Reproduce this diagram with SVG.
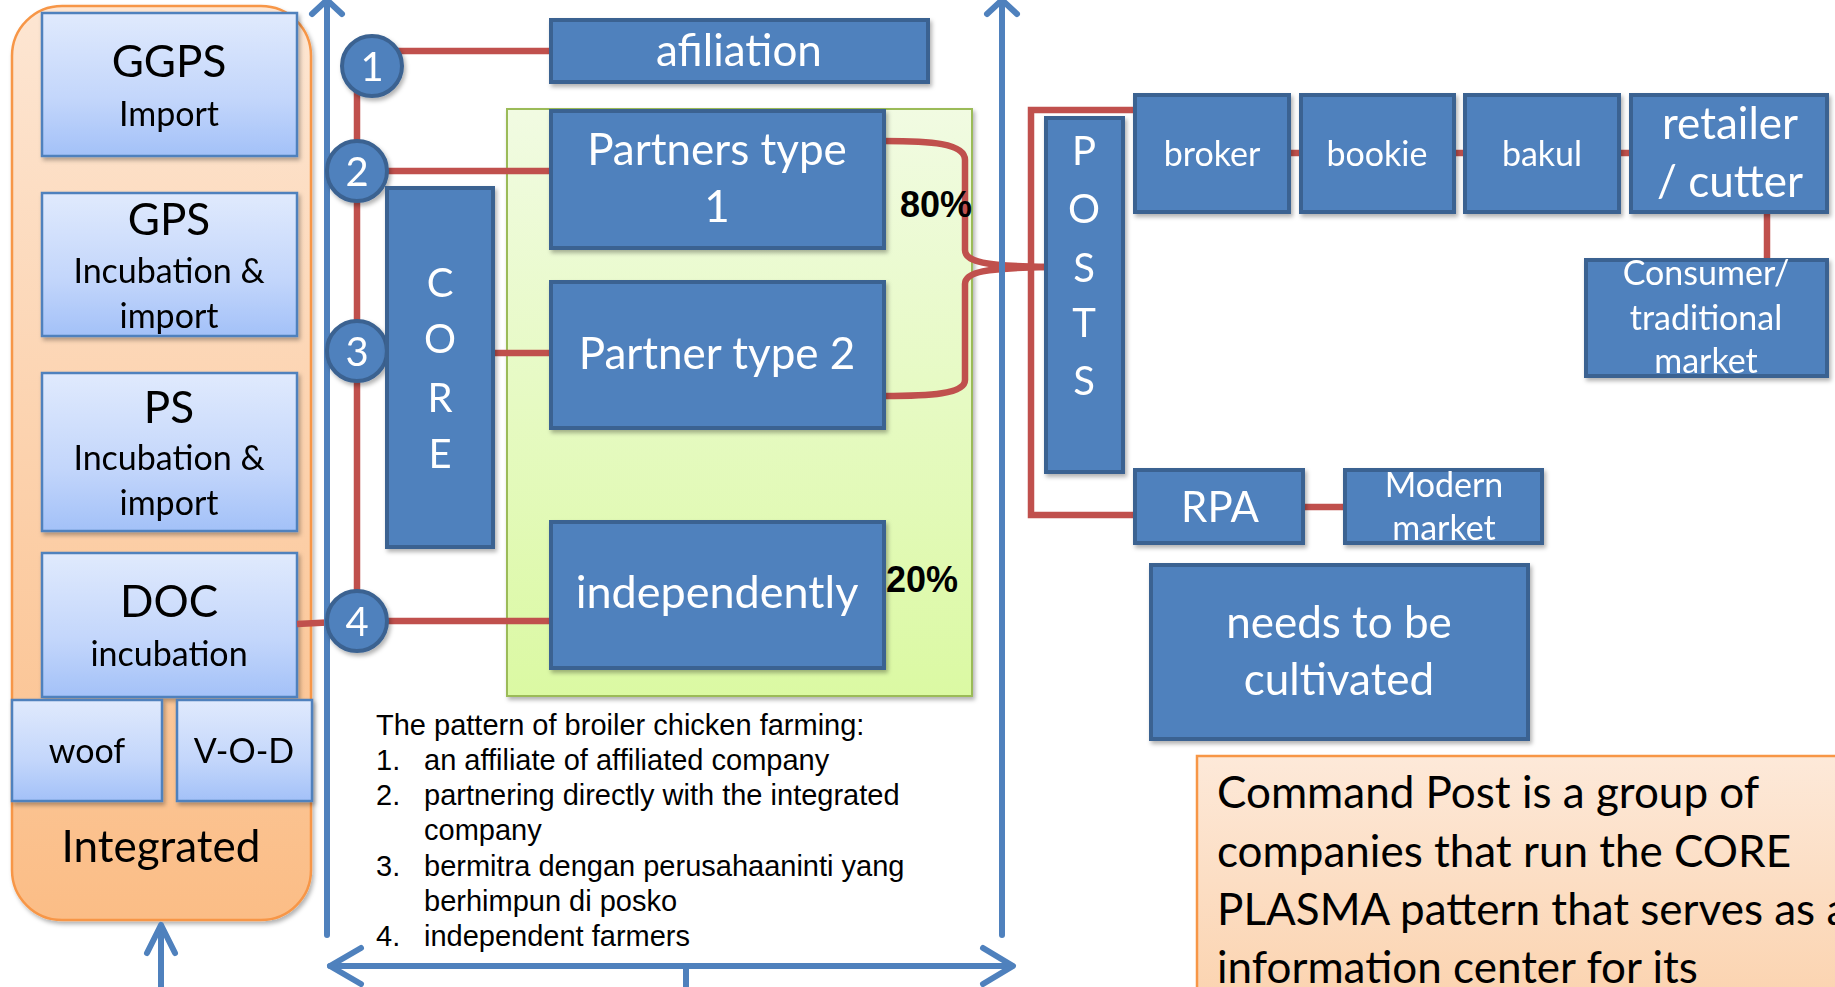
<svg xmlns="http://www.w3.org/2000/svg" width="1835" height="987" viewBox="0 0 1835 987">
  <defs>
    <linearGradient id="lblue" x1="0" y1="0" x2="0" y2="1">
      <stop offset="0" stop-color="#e0eafd"/>
      <stop offset="0.6" stop-color="#c3d6fb"/>
      <stop offset="1" stop-color="#a3c1f8"/>
    </linearGradient>
    <linearGradient id="orange" x1="0" y1="0" x2="0" y2="1">
      <stop offset="0" stop-color="#fde6d3"/>
      <stop offset="1" stop-color="#fbbd86"/>
    </linearGradient>
    <linearGradient id="orange2" x1="0" y1="0" x2="0" y2="1">
      <stop offset="0" stop-color="#fde9d9"/>
      <stop offset="1" stop-color="#fbd2ad"/>
    </linearGradient>
    <linearGradient id="green" x1="0" y1="0" x2="0" y2="1">
      <stop offset="0" stop-color="#f1fbe2"/>
      <stop offset="1" stop-color="#dbf9a3"/>
    </linearGradient>
    <filter id="shadow" x="-10%" y="-10%" width="130%" height="130%">
      <feDropShadow dx="2" dy="3" stdDeviation="2" flood-color="#000" flood-opacity="0.3"/>
    </filter>
    <style>
      .box { fill:#4f81bd; stroke:#3b6291; stroke-width:4; }
      .lbox { fill:url(#lblue); stroke:#4f81bd; stroke-width:2.5; }
      .circ { fill:#4f81bd; stroke:#3b6291; stroke-width:4; }
      .red { stroke:#c0504d; stroke-width:6.5; fill:none; }
      .blue { stroke:#4f81bd; stroke-width:6; fill:none; stroke-linecap:round; stroke-linejoin:round; }
      text { font-family:Lato, "Liberation Sans", sans-serif; }
      .wt { fill:#ffffff; text-anchor:middle; }
      .bt { fill:#000000; text-anchor:middle; }
      .pct { font-family:"Liberation Sans", Arial, sans-serif; font-weight:bold; font-size:36px; fill:#000; }
      .list { font-family:"Liberation Sans", Arial, sans-serif; font-size:29px; fill:#000; }
    </style>
  </defs>

  <!-- integrated company column -->
  <g id="integrated" filter="url(#shadow)">
    <rect x="12" y="6" width="299" height="914" rx="50" fill="url(#orange)" stroke="#f79646" stroke-width="2.5"/>
    <text class="bt" x="161" y="862" font-size="44">Integrated</text>
  </g>
  <g id="ggps" filter="url(#shadow)">
    <rect class="lbox" x="42" y="13" width="255" height="143"/>
    <text class="bt" x="169" y="77" font-size="44">GGPS</text>
    <text class="bt" x="169" y="126" font-size="34">Import</text>
  </g>
  <g id="gps" filter="url(#shadow)">
    <rect class="lbox" x="42" y="193" width="255" height="143"/>
    <text class="bt" x="169" y="235" font-size="44">GPS</text>
    <text class="bt" x="169" y="283" font-size="34">Incubation &amp;</text>
    <text class="bt" x="169" y="328" font-size="34">import</text>
  </g>
  <g id="ps" filter="url(#shadow)">
    <rect class="lbox" x="42" y="373" width="255" height="158"/>
    <text class="bt" x="169" y="423" font-size="44">PS</text>
    <text class="bt" x="169" y="470" font-size="34">Incubation &amp;</text>
    <text class="bt" x="169" y="515" font-size="34">import</text>
  </g>
  <g id="doc" filter="url(#shadow)">
    <rect class="lbox" x="42" y="553" width="255" height="144"/>
    <text class="bt" x="169" y="617" font-size="44">DOC</text>
    <text class="bt" x="169" y="666" font-size="34">incubation</text>
  </g>
  <g id="woof" filter="url(#shadow)">
    <rect class="lbox" x="12" y="700" width="150" height="101"/>
    <text class="bt" x="87" y="763" font-size="34">woof</text>
  </g>
  <g id="vod" filter="url(#shadow)">
    <rect class="lbox" x="177" y="700" width="135" height="101"/>
    <text class="bt" x="244" y="763" font-size="34">V-O-D</text>
  </g>

  <!-- partner area -->
  <g id="partner-area" filter="url(#shadow)">
    <rect x="507" y="109" width="465" height="587" fill="url(#green)" stroke="#9bbb59" stroke-width="2"/>
  </g>

  <!-- connectors -->
  <g id="connectors">
    <!-- farming pattern links -->
    <line class="red" x1="357" y1="66" x2="357" y2="621"/>
    <line class="red" x1="372" y1="51" x2="551" y2="51"/>
    <line class="red" x1="357" y1="171" x2="551" y2="171"/>
    <line class="red" x1="493" y1="353" x2="551" y2="353"/>
    <line class="red" x1="297" y1="624" x2="357" y2="621"/>
    <line class="red" x1="357" y1="621" x2="551" y2="621"/>
    <!-- partners to posts brace -->
    <path class="red" stroke-width="7" d="M884,141 C930,141 965,143 965,160 L965,250 C965,262 985,266 1047,267"/>
    <path class="red" stroke-width="7" d="M884,396 C930,396 965,394 965,380 L965,284 C965,272 985,268 1047,267"/>
    <!-- posts outlets -->
    <polyline class="red" points="1135,110 1031,110 1031,515 1135,515"/>
    <line class="red" stroke-width="9" x1="1289" y1="153" x2="1301" y2="153"/>
    <line class="red" stroke-width="9" x1="1454" y1="153" x2="1465" y2="153"/>
    <line class="red" stroke-width="9" x1="1619" y1="153" x2="1631" y2="153"/>
    <line class="red" x1="1767" y1="212" x2="1767" y2="259"/>
    <line class="red" stroke-width="7" x1="1303" y1="507" x2="1345" y2="507"/>
    <!-- blue frame arrows -->
    <line class="blue" x1="327" y1="2" x2="327" y2="935"/>
    <polyline class="blue" points="312,14 327,0 342,14"/>
    <line class="blue" x1="1002" y1="2" x2="1002" y2="935"/>
    <polyline class="blue" points="987,14 1002,0 1017,14"/>
    <line class="blue" x1="330" y1="966" x2="1012" y2="966"/>
    <polyline class="blue" points="361,948 330,966 361,984"/>
    <polyline class="blue" points="983,948 1013,966 983,984"/>
    <line class="blue" stroke-linecap="butt" x1="686" y1="966" x2="686" y2="987"/>
    <line class="blue" stroke-linecap="butt" x1="161" y1="926" x2="161" y2="987"/>
    <polyline class="blue" points="147,953 161,925 175,953"/>
  </g>

  <!-- numbered circles -->
  <g id="n1" filter="url(#shadow)">
    <circle class="circ" cx="372" cy="66" r="30"/>
    <text class="wt" x="372" y="81" font-size="40">1</text>
  </g>
  <g id="n2" filter="url(#shadow)">
    <circle class="circ" cx="357" cy="171" r="30"/>
    <text class="wt" x="357" y="186" font-size="40">2</text>
  </g>
  <g id="n3" filter="url(#shadow)">
    <circle class="circ" cx="357" cy="351" r="30"/>
    <text class="wt" x="357" y="366" font-size="40">3</text>
  </g>
  <g id="n4" filter="url(#shadow)">
    <circle class="circ" cx="357" cy="621" r="30"/>
    <text class="wt" x="357" y="636" font-size="40">4</text>
  </g>

  <!-- core and partners -->
  <g id="core" filter="url(#shadow)">
    <rect class="box" x="387" y="188" width="106" height="359"/>
    <text class="wt" x="440" y="297" font-size="40">C</text>
    <text class="wt" x="440" y="353" font-size="40">O</text>
    <text class="wt" x="440" y="412" font-size="40">R</text>
    <text class="wt" x="440" y="468" font-size="40">E</text>
  </g>
  <g id="afiliation" filter="url(#shadow)">
    <rect class="box" x="551" y="20" width="377" height="62"/>
    <text class="wt" x="739" y="66" font-size="44">afiliation</text>
  </g>
  <g id="partner1" filter="url(#shadow)">
    <rect class="box" x="551" y="111" width="333" height="137"/>
    <text class="wt" x="717" y="165" font-size="44">Partners type</text>
    <text class="wt" x="717" y="222" font-size="44">1</text>
  </g>
  <g id="partner2" filter="url(#shadow)">
    <rect class="box" x="551" y="282" width="333" height="146"/>
    <text class="wt" x="717" y="369" font-size="44">Partner type 2</text>
  </g>
  <g id="independently" filter="url(#shadow)">
    <rect class="box" x="551" y="522" width="333" height="146"/>
    <text class="wt" x="717" y="608" font-size="45">independently</text>
  </g>
  <text id="pct80" class="pct" x="900" y="217">80%</text>
  <text id="pct20" class="pct" x="886" y="592">20%</text>

  <!-- farming pattern notes -->
  <g id="pattern-notes">
    <text class="list" x="376" y="735">The pattern of broiler chicken farming:</text>
    <text class="list" x="376" y="770">1.</text>
    <text class="list" x="424" y="770">an affiliate of affiliated company</text>
    <text class="list" x="376" y="805">2.</text>
    <text class="list" x="424" y="805">partnering directly with the integrated</text>
    <text class="list" x="424" y="840">company</text>
    <text class="list" x="376" y="876">3.</text>
    <text class="list" x="424" y="876">bermitra dengan perusahaaninti yang</text>
    <text class="list" x="424" y="911">berhimpun di posko</text>
    <text class="list" x="376" y="946">4.</text>
    <text class="list" x="424" y="946">independent farmers</text>
  </g>

  <!-- posts and market chain -->
  <g id="posts" filter="url(#shadow)">
    <rect class="box" x="1046" y="118" width="77" height="354"/>
    <text class="wt" x="1084" y="165" font-size="40">P</text>
    <text class="wt" x="1084" y="223" font-size="40">O</text>
    <text class="wt" x="1084" y="282" font-size="40">S</text>
    <text class="wt" x="1084" y="337" font-size="40">T</text>
    <text class="wt" x="1084" y="395" font-size="40">S</text>
  </g>
  <g id="broker" filter="url(#shadow)">
    <rect class="box" x="1135" y="95" width="154" height="117"/>
    <text class="wt" x="1212" y="166" font-size="34">broker</text>
  </g>
  <g id="bookie" filter="url(#shadow)">
    <rect class="box" x="1301" y="95" width="153" height="117"/>
    <text class="wt" x="1377" y="166" font-size="34">bookie</text>
  </g>
  <g id="bakul" filter="url(#shadow)">
    <rect class="box" x="1465" y="95" width="154" height="117"/>
    <text class="wt" x="1542" y="166" font-size="34">bakul</text>
  </g>
  <g id="retailer" filter="url(#shadow)">
    <rect class="box" x="1631" y="95" width="196" height="117"/>
    <text class="wt" x="1730" y="139" font-size="44">retailer</text>
    <text class="wt" x="1730" y="197" font-size="44">/ cutter</text>
  </g>
  <g id="consumer" filter="url(#shadow)">
    <rect class="box" x="1586" y="260" width="241" height="116"/>
    <text class="wt" x="1706" y="285" font-size="34">Consumer/</text>
    <text class="wt" x="1706" y="330" font-size="34">traditional</text>
    <text class="wt" x="1706" y="373" font-size="34">market</text>
  </g>
  <g id="rpa" filter="url(#shadow)">
    <rect class="box" x="1135" y="470" width="168" height="73"/>
    <text class="wt" x="1220" y="522" font-size="42">RPA</text>
  </g>
  <g id="modern-market" filter="url(#shadow)">
    <rect class="box" x="1345" y="470" width="197" height="73"/>
    <text class="wt" x="1444" y="497" font-size="34">Modern</text>
    <text class="wt" x="1444" y="540" font-size="34">market</text>
  </g>
  <g id="cultivated" filter="url(#shadow)">
    <rect class="box" x="1151" y="565" width="377" height="174"/>
    <text class="wt" x="1339" y="638" font-size="44">needs to be</text>
    <text class="wt" x="1339" y="695" font-size="44">cultivated</text>
  </g>

  <!-- command post note -->
  <g id="command-post">
    <rect x="1197" y="756" width="660" height="260" fill="url(#orange2)" stroke="#f79646" stroke-width="2.5"/>
    <text x="1217" y="808" font-size="44" fill="#000">Command Post is a group of</text>
    <text x="1217" y="867" font-size="44" fill="#000">companies that run the CORE</text>
    <text x="1217" y="925" font-size="44" fill="#000">PLASMA pattern that serves as a</text>
    <text x="1217" y="983" font-size="44" fill="#000">information center for its</text>
  </g>
</svg>
